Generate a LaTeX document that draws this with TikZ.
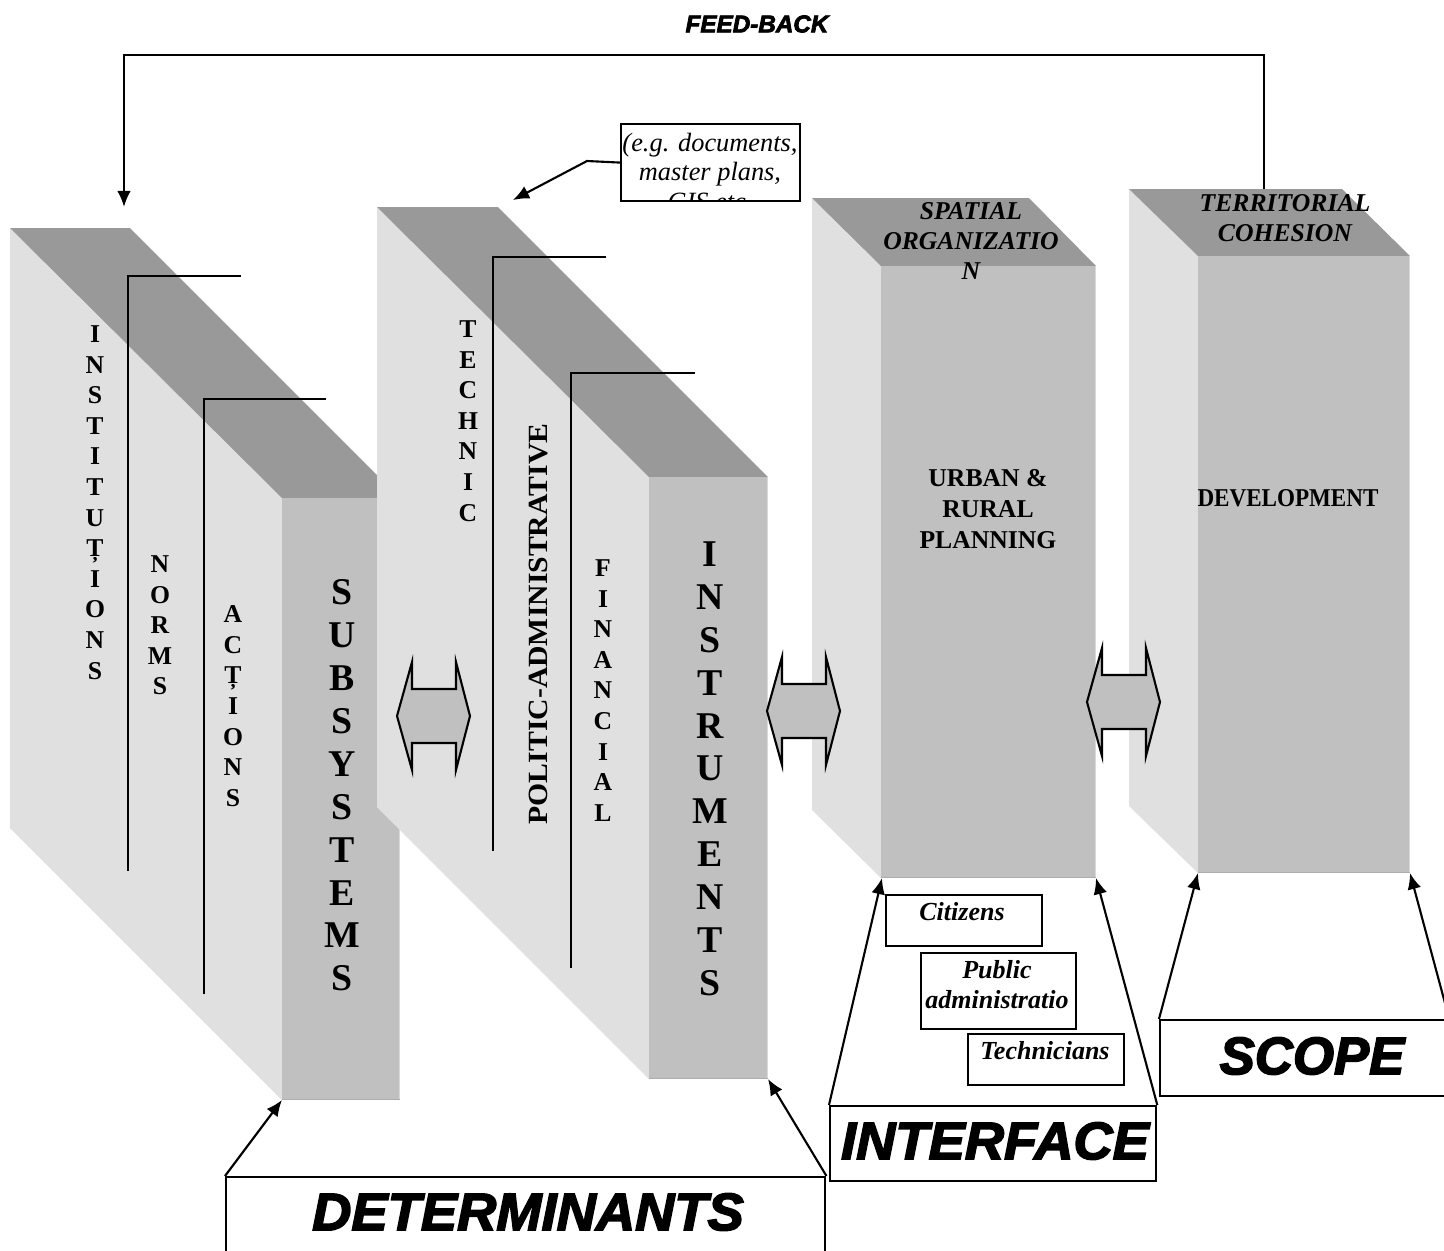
\documentclass[tikz,border=0pt]{standalone}
\usepackage{fontspec}
\setmainfont{Liberation Serif}
% heavy oblique sans for the headings
\font\headfont="Liberation Sans/BI:embolden=3" at 15pt
\font\fbfont="Liberation Sans/BI:embolden=3" at 6.9pt
\usetikzlibrary{arrows.meta}
\definecolor{sidegray}{gray}{0.878}
\definecolor{topgray}{gray}{0.6}
\definecolor{frontgray}{gray}{0.753}
\definecolor{edgelight}{gray}{0.85}
\definecolor{edgedark}{gray}{0.68}
\newcommand\wide[1]{\scalebox{1.03}[1]{#1}}

\begin{document}
\begin{tikzpicture}[x=0.01cm, y=-0.01cm,
  sideface/.style={fill=sidegray},
  topface/.style={fill=topgray},
  frontface/.style={fill=frontgray},
  rim/.style={line width=0.45pt},
  guide/.style={line width=0.6pt},
  stackS/.style={font=\bfseries\fontsize{7.3}{8.7}\selectfont, align=center, inner sep=0pt, anchor=north},
  stackL/.style={font=\bfseries\fontsize{10.75}{12.2}\selectfont, align=center, inner sep=0pt, anchor=north},
  facelabel/.style={font=\bfseries\fontsize{7.3}{8.8}\selectfont, align=center, inner sep=0pt},
  toplabel/.style={font=\bfseries\itshape\fontsize{7.3}{8.6}\selectfont, align=center, inner sep=0pt},
  link/.style={line width=0.6pt, -{Latex[length=4.6pt,width=3.9pt]}},
  framebox/.style={draw, fill=white, line width=0.6pt, inner sep=0pt, anchor=north west},
  actor/.style={font=\bfseries\itshape\fontsize{7.4}{8.5}\selectfont, align=center, inner sep=0pt},
  heading/.style={font=\headfont, inner sep=0pt},
  dblarrow/.pic={
    \draw[fill=frontgray, line width=0.6pt, line join=miter]
      (0,0) -- (15,-54) -- (15,-27) -- (59,-27) -- (59,-54) -- (73,0)
      -- (59,54) -- (59,27) -- (15,27) -- (15,54) -- cycle;
  }
]
\useasboundingbox (0,0) rectangle (1444,1251);
\fill[white] (0,0) rectangle (1444,1251);

% ---------- block 1: SUBSYSTEMS ----------
\fill[sideface] (10,228) -- (282,498) -- (282,1100) -- (10,828) -- cycle;
\fill[topface] (10,228) -- (130,228) -- (400,498) -- (282,498) -- cycle;
\fill[frontface] (282,498) rectangle (400,1100);
\draw[rim, edgelight] (399.5,498) -- (399.5,1100);
\draw[rim, edgedark] (282,1099.5) -- (400,1099.5);
\coordinate (b1fl) at (282,1100);

\draw[guide] (241,276) -- (128,276) -- (128,871);
\draw[guide] (326,399) -- (204,399) -- (204,994);

\node[stackS] (inst) at (95,325) {I\\N\\S\\T\\I\\T\\U\\Ț\\I\\O\\N\\S};
\node[stackS] (norms) at (160,555) {N\\O\\R\\M\\S};
\node[stackS] (acts) at (233,605) {A\\C\\Ț\\I\\O\\N\\S};
\node[stackL] (subs) at (342,579) {S\\U\\B\\S\\Y\\S\\T\\E\\M\\S};

% ---------- block 2: INSTRUMENTS ----------
\fill[sideface] (377,207) -- (649,477) -- (649,1079) -- (377,807) -- cycle;
\fill[topface] (377,207) -- (498,207) -- (768,477) -- (649,477) -- cycle;
\fill[frontface] (649,477) rectangle (768,1079);
\draw[rim, edgelight] (767.5,477) -- (767.5,1079);
\draw[rim, edgedark] (649,1078.5) -- (768,1078.5);
\coordinate (b2fr) at (768,1079);

\draw[guide] (606,257) -- (493,257) -- (493,851);
\draw[guide] (695,373) -- (571,373) -- (571,968);

\node[stackS] (tech) at (468,320) {T\\E\\C\\H\\N\\I\\C};
\node[rotate=90, font=\bfseries\fontsize{7.9}{9}\selectfont, inner sep=0pt] (polit) at (539,624)
  {\scalebox{1.07}[1]{POLITIC-ADMINISTRATIVE}};
\node[stackS] (fin) at (603,559) {F\\I\\N\\A\\N\\C\\I\\A\\L};
\node[stackL] (instr) at (710,541) {I\\N\\S\\T\\R\\U\\M\\E\\N\\T\\S};

% ---------- block 3: URBAN & RURAL PLANNING ----------
\fill[sideface] (812,198) -- (881,266) -- (881,878) -- (812,810) -- cycle;
\fill[topface] (812,198) -- (1029,198) -- (1096,266) -- (881,266) -- cycle;
\fill[frontface] (881,266) rectangle (1096,878);
\draw[rim, edgelight] (1095.5,266) -- (1095.5,878);
\draw[rim, edgedark] (881,877.5) -- (1096,877.5);
\coordinate (b3fl) at (882,878);
\coordinate (b3fr) at (1096,878);

\node[toplabel] (spat) at (971,241) {SPATIAL\\ORGANIZATIO\\N};
\node[facelabel] (urban) at (988,509) {URBAN \&\\RURAL\\PLANNING};

% ---------- block 4: DEVELOPMENT ----------
\fill[sideface] (1129,189) -- (1198,256) -- (1198,873) -- (1129,806) -- cycle;
\fill[topface] (1129,189) -- (1342,189) -- (1410,256) -- (1198,256) -- cycle;
\fill[frontface] (1198,256) rectangle (1410,873);
\draw[rim, edgelight] (1409.5,256) -- (1409.5,873);
\draw[rim, edgedark] (1198,872.5) -- (1410,872.5);
\coordinate (b4fl) at (1198,873);
\coordinate (b4fr) at (1410,873);

\node[toplabel] (terr) at (1285,218) {TERRITORIAL\\COHESION};
\node[facelabel] (dev) at (1288,498) {\scalebox{0.9}[1]{DEVELOPMENT}};

% ---------- two-way arrows between the blocks ----------
\pic (arrA) at (397,716) {dblarrow};
\pic (arrB) at (767,711) {dblarrow};
\pic (arrC) at (1087,702) {dblarrow};

% ---------- feed-back loop ----------
\coordinate (fbfrom) at (1264,189);
\coordinate (fbcorner) at (124,55);
\coordinate (fbto) at (124,207);
\draw[link] (fbfrom) |- (fbcorner) -- (fbto);
\node[heading, font=\fbfont] (fb) at (757,24) {FEED-BACK};

% ---------- call-out on the instruments ----------
\node[framebox, minimum width=1.79cm, minimum height=0.77cm] (callout) at (620,123) {};
\begin{scope}
  \clip (620,123) rectangle (799,200);
  \node[font=\itshape\fontsize{7.5}{8.5}\selectfont, align=center, anchor=north, inner sep=0pt]
    (calltext) at (710,132) {(e.g. documents,\\master plans,\\GIS etc.};
\end{scope}
\coordinate (callbend) at (587,161);
\coordinate (calltip) at (513,200);
\draw[link] (callout.west) -- (callbend) -- (calltip);

% ---------- DETERMINANTS ----------
\node[framebox, minimum width=5.99cm, minimum height=0.9cm] (det) at (225,1176) {};
\node[heading] (dettext) at (528,1212) {\wide{DETERMINANTS}};
\draw[link] (det.north west) -- (b1fl);
\draw[link] (det.north east) -- (b2fr);

% ---------- INTERFACE ----------
\node[framebox, minimum width=3.26cm, minimum height=0.75cm] (intf) at (829,1105) {};
\node[heading] (intftext) at (995,1141) {\wide{INTERFACE}};
\draw[link] (intf.north west) -- (b3fl);
\draw[link] (intf.north east) -- (b3fr);

\node[framebox, minimum width=1.56cm, minimum height=0.51cm] (citbox) at (885,894) {};
\node[actor] (cit) at (962,912) {Citizens};
\node[framebox, minimum width=1.55cm, minimum height=0.76cm] (pubbox) at (920,952) {};
\node[actor] (pub) at (997,985) {Public\\administratio};
\node[framebox, minimum width=1.56cm, minimum height=0.51cm] (techbox) at (967,1033) {};
\node[actor] (techn) at (1045,1051) {Technicians};

% ---------- SCOPE ----------
\node[framebox, minimum width=2.88cm, minimum height=0.76cm] (scopebox) at (1159,1019) {};
\node[heading] (scopetext) at (1312,1056) {SCOPE};
\draw[link] (scopebox.north west) -- (b4fl);
\draw[link] (scopebox.north east) -- (b4fr);
\end{tikzpicture}
\end{document}
